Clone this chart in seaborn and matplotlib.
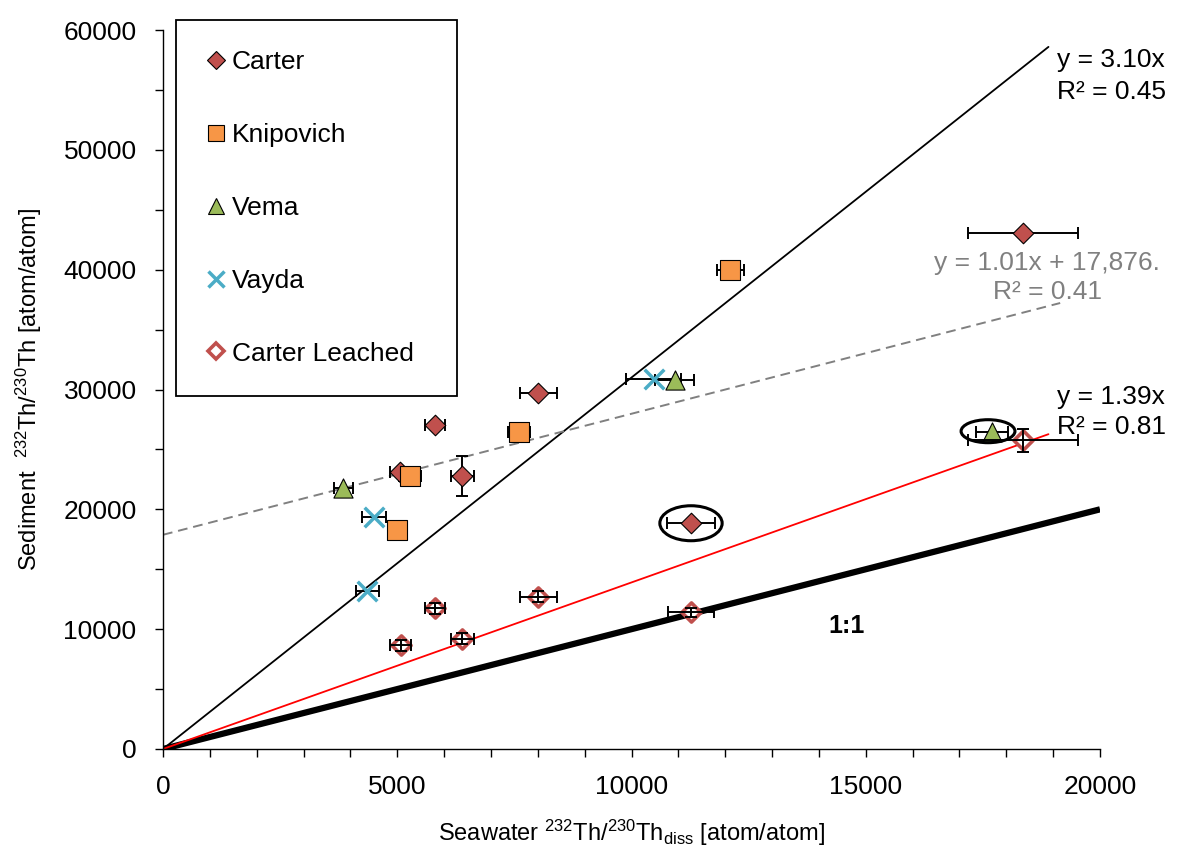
import seaborn as sns
import matplotlib.pyplot as plt
from matplotlib.lines import Line2D
from matplotlib.patches import Ellipse
from matplotlib.ticker import MultipleLocator

# --- values ---
carter_x = [18350, 8010, 5810, 5060, 6390, 11270]
carter_y = [43100, 29700, 27000, 23150, 22800, 18850]
carter_xerr = [1170, 400, 210, 220, 240, 510]
carter_yerr = [0, 0, 0, 0, 1650, 0]

knip_x = [12110, 7600, 5270, 5000]
knip_y = [40000, 26450, 22750, 18250]
knip_xerr = [290, 230, 230, 0]

vema_x = [10920, 3850, 17700]
vema_y = [30800, 21800, 26480]
vema_xerr = [420, 210, 340]

vayda_x = [10470, 4500, 4360]
vayda_y = [30850, 19400, 13150]
vayda_xerr = [580, 260, 250]

leach_x = [18350, 8010, 5810, 6390, 5070, 11270]
leach_y = [25750, 12700, 11750, 9200, 8650, 11400]
leach_xerr = [1170, 400, 210, 240, 220, 500]
leach_yerr = [950, 450, 450, 450, 450, 350]

# trend lines: slope, intercept, end of line on x
fit_slope = [3.10, 1.39, 1.01]
fit_icept = [0, 0, 17876]
fit_xend = [18900, 18900, 19150]

# circled samples (centre x, centre y, width, height)
circ_x = [11270, 17610]
circ_y = [18840, 26520]
circ_w = [1330, 1150]
circ_h = [2920, 1920]

c_carter = '#C0504D'
c_knip = '#F79646'
c_vema = '#9BBB59'
c_vayda = '#4BACC6'

sns.set_style('white')
plt.rcParams['font.family'] = ['Liberation Sans', 'DejaVu Sans']
plt.rcParams['mathtext.default'] = 'regular'
plt.rcParams['text.color'] = 'black'
plt.rcParams['axes.labelcolor'] = 'black'
plt.rcParams['xtick.color'] = 'black'
plt.rcParams['ytick.color'] = 'black'

fig = plt.figure(figsize=(11.77, 8.66), dpi=100)
ax = fig.add_axes([163 / 1177, 1 - 749 / 866, 937 / 1177, 719 / 866])

# 1:1 line and regressions
ax.plot([0, 20000], [0, 20000], color='black', lw=4.5, zorder=2, solid_capstyle='butt')
ax.plot([0, fit_xend[0]], [fit_icept[0], fit_slope[0] * fit_xend[0] + fit_icept[0]],
        color='black', lw=1.3, zorder=2)
ax.plot([0, fit_xend[1]], [fit_icept[1], fit_slope[1] * fit_xend[1] + fit_icept[1]],
        color='#FF0000', lw=1.3, zorder=2)
ax.plot([0, fit_xend[2]], [fit_icept[2], fit_slope[2] * fit_xend[2] + fit_icept[2]],
        color='#808080', lw=1.4, ls=(0, (5, 3)), zorder=2)

eb = dict(fmt='none', ecolor='black', elinewidth=1.4, capsize=4.5, capthick=1.4)
ax.errorbar(carter_x, carter_y, xerr=carter_xerr, yerr=carter_yerr, zorder=3, **eb)
ax.errorbar(knip_x, knip_y, xerr=knip_xerr, zorder=3, **eb)
ax.errorbar(vema_x, vema_y, xerr=vema_xerr, zorder=3, **eb)
ax.errorbar(vayda_x, vayda_y, xerr=vayda_xerr, zorder=3, **eb)
ax.errorbar(leach_x, leach_y, xerr=leach_xerr, yerr=leach_yerr, zorder=6, **eb)

sns.scatterplot(x=carter_x, y=carter_y, marker='D', s=110, color=c_carter,
                edgecolor='black', linewidth=0.8, ax=ax, zorder=4, legend=False)
sns.scatterplot(x=knip_x, y=knip_y, marker='s', s=200, color=c_knip,
                edgecolor='black', linewidth=0.8, ax=ax, zorder=4, legend=False)
sns.scatterplot(x=vema_x, y=vema_y, marker='^', s=190, color=c_vema,
                edgecolor='black', linewidth=0.8, ax=ax, zorder=4, legend=False)
sns.scatterplot(x=vayda_x, y=vayda_y, marker='x', s=200, color=c_vayda,
                linewidth=2.5, ax=ax, zorder=4, legend=False)
sns.scatterplot(x=leach_x, y=leach_y, marker='D', s=95, facecolor='white',
                edgecolor=c_carter, linewidth=2.6, ax=ax, zorder=5, legend=False)

for cx, cy, w, h in zip(circ_x, circ_y, circ_w, circ_h):
    ax.add_patch(Ellipse((cx, cy), w, h, fill=False, edgecolor='black', lw=2.2, zorder=7))

# annotations
fs = 19
ax.text(19080, 57500, 'y = 3.10x', fontsize=fs, va='center', ha='left', clip_on=False)
ax.text(19080, 54800, 'R² = 0.45', fontsize=fs, va='center', ha='left', clip_on=False)
ax.text(19080, 29380, 'y = 1.39x', fontsize=fs, va='center', ha='left', clip_on=False)
ax.text(19080, 26880, 'R² = 0.81', fontsize=fs, va='center', ha='left', clip_on=False)
ax.text(18870, 40570, 'y = 1.01x + 17,876.', fontsize=fs, color='#808080',
        va='center', ha='center', clip_on=False)
ax.text(18870, 38150, 'R² = 0.41', fontsize=fs, color='#808080',
        va='center', ha='center', clip_on=False)
ax.text(14600, 10270, '1:1', fontsize=18, fontweight='bold', va='center', ha='center')

# axes
ax.set_xlim(0, 20000)
ax.set_ylim(0, 60000)
ax.xaxis.set_major_locator(MultipleLocator(5000))
ax.xaxis.set_minor_locator(MultipleLocator(1000))
ax.yaxis.set_major_locator(MultipleLocator(10000))
ax.yaxis.set_minor_locator(MultipleLocator(5000))
ax.tick_params(axis='both', which='both', direction='out', length=6, width=1,
               color='black', pad=13, labelsize=19, bottom=True, left=True)
for side in ['top', 'right']:
    ax.spines[side].set_visible(False)
for side in ['left', 'bottom']:
    ax.spines[side].set_color('black')
    ax.spines[side].set_linewidth(1.0)

ax.set_xlabel(r'Seawater $^{232}$Th/$^{230}$Th$_{diss}$ [atom/atom]',
              fontsize=17, labelpad=13)
ax.set_ylabel(r'Sediment  $^{232}$Th/$^{230}$Th [atom/atom]',
              fontsize=17, labelpad=14)

# legend
handles = [
    Line2D([], [], ls='none', marker='D', markersize=9, markerfacecolor=c_carter,
           markeredgecolor='black', markeredgewidth=0.8, label='Carter'),
    Line2D([], [], ls='none', marker='s', markersize=12, markerfacecolor=c_knip,
           markeredgecolor='black', markeredgewidth=0.8, label='Knipovich'),
    Line2D([], [], ls='none', marker='^', markersize=12, markerfacecolor=c_vema,
           markeredgecolor='black', markeredgewidth=0.8, label='Vema'),
    Line2D([], [], ls='none', marker='x', markersize=12, color=c_vayda,
           markeredgewidth=2.5, label='Vayda'),
    Line2D([], [], ls='none', marker='D', markersize=8.5, markerfacecolor='white',
           markeredgecolor=c_carter, markeredgewidth=2.6, label='Carter Leached'),
]
leg = ax.legend(handles=handles, loc='upper left', mode='expand',
                bbox_to_anchor=(176 / 1177, 0.5, 281 / 1177, 1 - 20 / 866 - 0.5),
                bbox_transform=fig.transFigure, borderaxespad=0, fontsize=19,
                labelspacing=1.85, borderpad=1.15, handlelength=0.75, handletextpad=0.22,
                frameon=True, fancybox=False, framealpha=1)
leg.get_frame().set_edgecolor('black')
leg.get_frame().set_linewidth(1.3)

fig.savefig('out.png', dpi=100)
